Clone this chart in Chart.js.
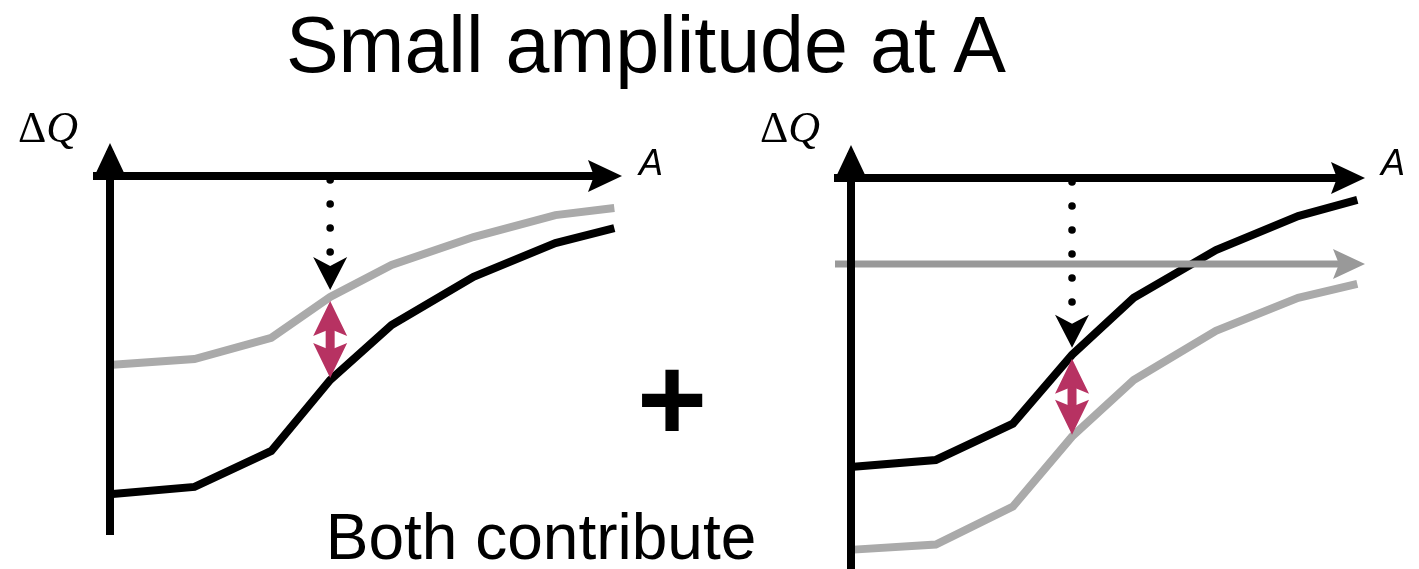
<!DOCTYPE html>
<html>
<head>
<meta charset="utf-8">
<script src="https://cdn.jsdelivr.net/npm/chart.js@4.4.1/dist/chart.umd.min.js"></script>
<style>
  html, body { margin: 0; padding: 0; background: #fff; }
  body { width: 1419px; height: 569px; position: relative; overflow: hidden; font-family: "Liberation Sans", Arial, sans-serif; color: #000; }
  canvas.panel { position: absolute; left: 0; top: 0; }
  .txt { position: absolute; white-space: nowrap; line-height: 1; }
  .title { font-size: 79px; top: 5px; left: 646px; transform: translateX(-50%); }
  .both { font-size: 64px; top: 505px; left: 541px; transform: translateX(-50%); }
  .plus { font-size: 120px; font-weight: bold; top: 339px; left: 672px; transform: translateX(-50%); }
  .alab { font-family: "Liberation Sans", Arial, sans-serif; font-size: 36px; font-style: italic; top: 145px; }
  .qlab { font-family: "Liberation Serif", "DejaVu Serif", serif; font-size: 44px; top: 106px; }
  .qlab i { font-style: italic; }
</style>
</head>
<body>
<canvas id="leftPanel" class="panel" width="1419" height="569"></canvas>
<canvas id="rightPanel" class="panel" width="1419" height="569"></canvas>

<div class="txt title">Small amplitude at A</div>
<div class="txt both">Both contribute</div>
<div class="txt plus">+</div>
<div class="txt qlab" style="left:18px">Δ<i>Q</i></div>
<div class="txt qlab" style="left:760px">Δ<i>Q</i></div>
<div class="txt alab" style="left:639px">A</div>
<div class="txt alab" style="left:1381px">A</div>

<script>
// amplitude A (shared x positions of the curve corners)
const aValues = [0.5, 16.5, 31.5, 43, 55, 71, 87, 98.5];

// left panel
const leftGray = [-52.6, -51.0, -45.1, -33.7, -24.8, -17.0, -10.9, -8.9];
const leftBlack = [-88.6, -86.6, -76.6, -56.8, -41.5, -28.1, -18.7, -14.5];

// right panel
const rightBlack = [-80.5, -78.6, -68.5, -49.3, -33.4, -20.1, -10.6, -6.1];
const rightGray = [-103.6, -102.2, -91.6, -72.1, -56.3, -42.6, -33.4, -29.5];
const rightLevel = [-24];

// where the arrows are drawn (index into aValues)
const markIndex = 3;

const MAGENTA = '#b73262';
const LINE_W = 8;

function toPoints(xs, ys) {
    return xs.map((x, i) => ({ x: x, y: ys[i] }));
}

function arrowHead(ctx, tx, ty, dx, dy, len, hw, notch) {
    const px = -dy, py = dx;
    const bx = tx - dx * len, by = ty - dy * len;
    ctx.beginPath();
    ctx.moveTo(tx, ty);
    ctx.lineTo(bx + px * hw, by + py * hw);
    ctx.lineTo(tx - dx * (len - notch), ty - dy * (len - notch));
    ctx.lineTo(bx - px * hw, by - py * hw);
    ctx.closePath();
    ctx.fill();
}

const schematic = {
    id: 'schematic',
    afterDatasetsDraw(chart, args, opts) {
        const ctx = chart.ctx;
        const { left, right, top, bottom } = chart.chartArea;
        const xs = chart.scales.x, ys = chart.scales.y;
        ctx.save();
        ctx.lineCap = 'butt';

        // level arrow (right panel only)
        if (opts.level != null) {
            const py = ys.getPixelForValue(opts.level);
            ctx.strokeStyle = '#999999';
            ctx.fillStyle = '#999999';
            ctx.lineWidth = LINE_W - 1;
            ctx.beginPath();
            ctx.moveTo(left - 16, py);
            ctx.lineTo(right - 26, py);
            ctx.stroke();
            arrowHead(ctx, right, py, 1, 0, 32, 15, 6);
        }

        // axes
        ctx.strokeStyle = '#000';
        ctx.fillStyle = '#000';
        ctx.lineWidth = LINE_W;
        ctx.beginPath();
        ctx.moveTo(left, bottom);
        ctx.lineTo(left, top - 25);
        ctx.moveTo(left - 17, top);
        ctx.lineTo(right - 26, top);
        ctx.stroke();
        arrowHead(ctx, left, top - 33, 0, -1, 34, 16, 6);
        arrowHead(ctx, right, top, 1, 0, 34, 16, 6);

        // marker arrows
        const i = opts.mark;
        const p0 = chart.data.datasets[0].data[i];
        const p1 = chart.data.datasets[1].data[i];
        const mx = xs.getPixelForValue(p0.x);
        const upper = ys.getPixelForValue(Math.max(p0.y, p1.y));
        const lower = ys.getPixelForValue(Math.min(p0.y, p1.y));

        // dotted arrow from the A axis
        const tip = upper - 7;
        for (let yy = top + 4; yy <= tip - 31; yy += 24) {
            ctx.beginPath();
            ctx.arc(mx, yy, 3.8, 0, Math.PI * 2);
            ctx.fill();
        }
        arrowHead(ctx, mx, tip, 0, 1, 33, 17, 9);

        // magenta double arrow between the curves
        const t1 = upper + 4, t2 = lower - 2;
        ctx.strokeStyle = MAGENTA;
        ctx.fillStyle = MAGENTA;
        ctx.lineWidth = 9;
        ctx.beginPath();
        ctx.moveTo(mx, t1 + 20);
        ctx.lineTo(mx, t2 - 20);
        ctx.stroke();
        arrowHead(ctx, mx, t1, 0, -1, 35, 17, 7);
        arrowHead(ctx, mx, t2, 0, 1, 35, 17, 7);

        ctx.restore();
    }
};

function makePanel(id, series, pad, yMin, level) {
    return new Chart(document.getElementById(id), {
        type: 'line',
        data: {
            datasets: series.map(s => ({
                data: toPoints(aValues, s.values),
                borderColor: s.color,
                borderWidth: LINE_W,
                pointRadius: 0,
                tension: 0,
                fill: false,
                clip: false
            }))
        },
        options: {
            responsive: false,
            animation: false,
            events: [],
            layout: { padding: pad },
            scales: {
                x: { type: 'linear', min: 0, max: 100, display: false },
                y: { type: 'linear', min: yMin, max: 0, display: false }
            },
            plugins: {
                legend: { display: false },
                tooltip: { enabled: false },
                schematic: { mark: markIndex, level: level }
            }
        },
        plugins: [schematic]
    });
}

makePanel('leftPanel',
    [{ values: leftGray, color: '#aaaaaa' }, { values: leftBlack, color: '#000000' }],
    { left: 110, right: 797, top: 176, bottom: 34 }, -100, null);

makePanel('rightPanel',
    [{ values: rightGray, color: '#aaaaaa' }, { values: rightBlack, color: '#000000' }],
    { left: 851, right: 54, top: 178, bottom: 0 }, -109, rightLevel[0]);
</script>
</body>
</html>
